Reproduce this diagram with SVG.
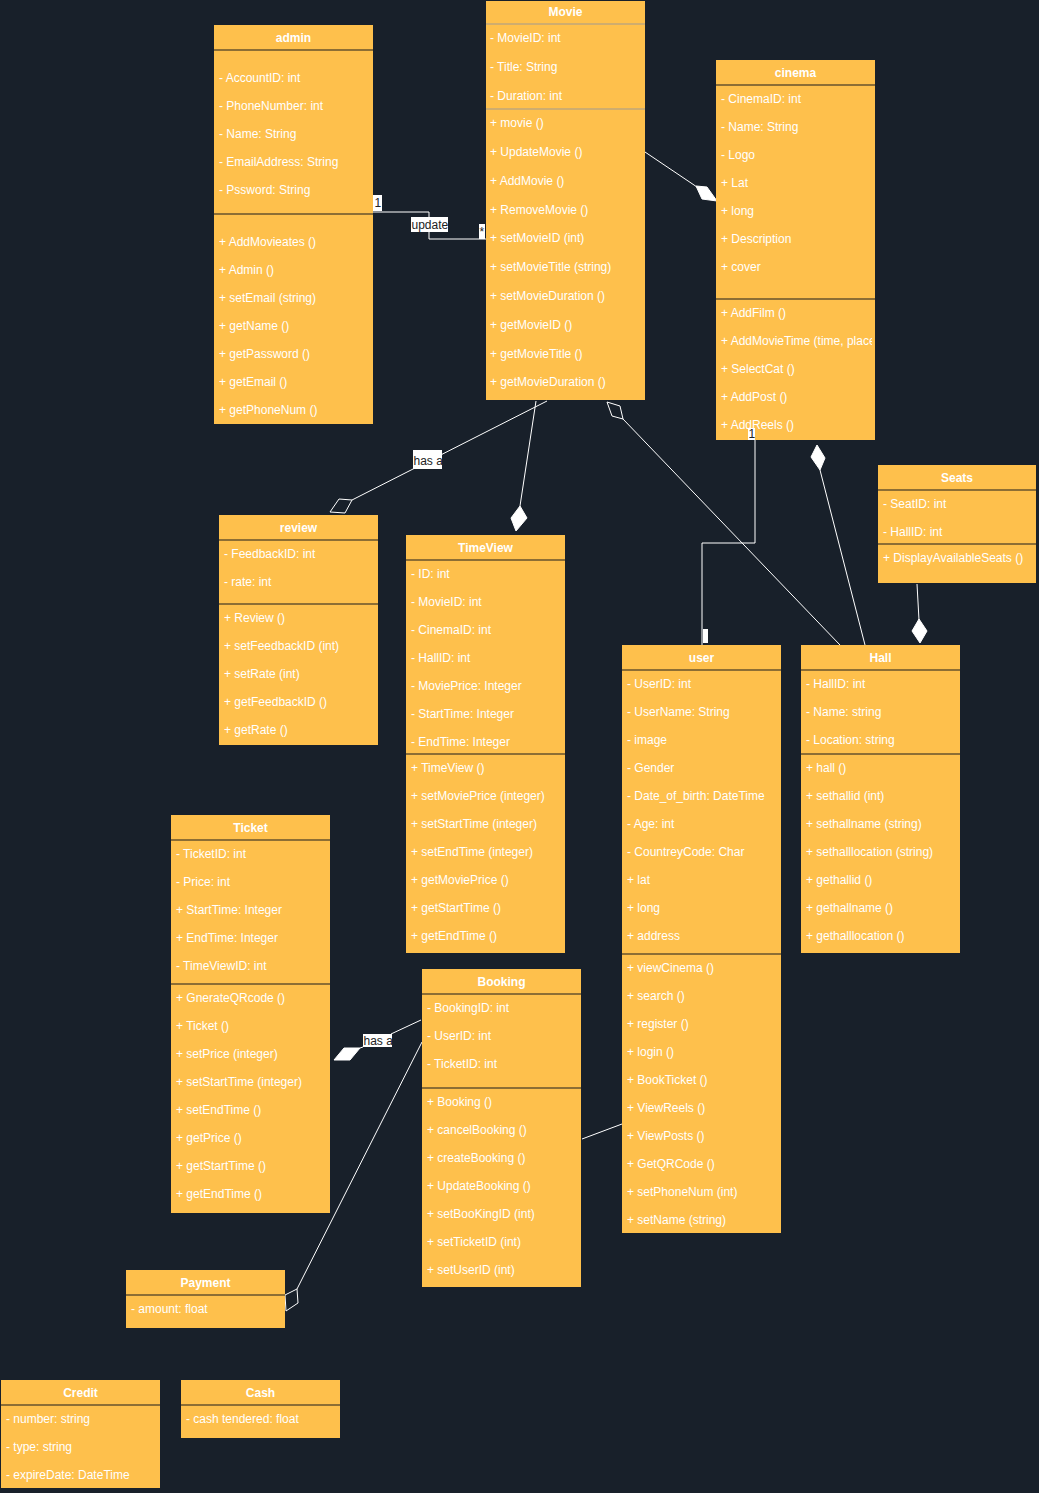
<svg xmlns="http://www.w3.org/2000/svg" width="1039" height="1493" viewBox="0 0 1039 1493">
<style>
.bg{fill:#18202a}
.box{fill:#fec04c}
.sep{stroke:#1c1c1c;stroke-width:1.2}
.gsep{stroke:#a09a90;stroke-width:1.2}
.t{font-family:"Liberation Sans",Arial,sans-serif;font-size:12px;fill:#ffffff}
.h{font-weight:bold;text-anchor:middle}
.c{stroke:#ffffff;stroke-width:1;fill:none}
.fd{fill:#ffffff;stroke:#ffffff;stroke-width:1}
.hd{fill:none;stroke:#ffffff;stroke-width:1}
.lb{fill:#ffffff}
.lt{font-family:"Liberation Sans",Arial,sans-serif;font-size:12px;fill:#222222}
</style>
<defs>
<clipPath id="clipCinema"><rect x="716" y="60" width="156" height="380"/></clipPath>
</defs>
<rect class="bg" x="0" y="0" width="1039" height="1493"/>

<g id="connectors">
  <polyline class="c" points="373,212 429,212 429,239 486,239"/>
  <line class="c" x1="645" y1="152" x2="697" y2="187"/>
  <polygon class="fd" points="696,186 707,187 717,201 702,199"/>
  <line class="c" x1="547" y1="401" x2="352" y2="500"/>
  <polygon class="hd" points="352,500 339,499 330,512 345,513"/>
  <line class="c" x1="536" y1="401" x2="520" y2="506"/>
  <polygon class="fd" points="520,506 527,518 516,531 511,518"/>
  <polygon class="hd" points="607,402 620,406 623,419 612,416"/>
  <line class="c" x1="623" y1="419" x2="840" y2="645"/>
  <polyline class="c" points="755,440 755,543 702,543 702,645"/>
  <polygon class="fd" points="817,445 825,458 820,470 811,457"/>
  <line class="c" x1="820" y1="470" x2="865" y2="645"/>
  <line class="c" x1="917" y1="584" x2="919" y2="620"/>
  <polygon class="fd" points="919,619 927,631 920,643 912,631"/>
  <line class="c" x1="421" y1="1020" x2="391" y2="1034"/>
  <line class="c" x1="363" y1="1047" x2="360" y2="1048"/>
  <polygon class="fd" points="360,1048 350,1060 334,1060 344,1048"/>
  <line class="c" x1="422" y1="1042" x2="297" y2="1289"/>
  <polygon class="hd" points="297,1289 298,1303 286,1311 285,1295"/>
  <line class="c" x1="582" y1="1139" x2="622" y2="1124"/>
</g>

<g id="admin">
  <rect class="box" x="214" y="25" width="159" height="399"/>
  <line class="sep" x1="214" y1="50" x2="373" y2="50"/>
  <line class="sep" x1="214" y1="214" x2="373" y2="214"/>
  <text class="t h" x="293.5" y="42">admin</text>
  <text class="t" x="219" y="82">- AccountID: int</text>
  <text class="t" x="219" y="110">- PhoneNumber: int</text>
  <text class="t" x="219" y="138">- Name: String</text>
  <text class="t" x="219" y="166">- EmailAddress: String</text>
  <text class="t" x="219" y="194">- Pssword: String</text>
  <text class="t" x="219" y="246">+ AddMovieates ()</text>
  <text class="t" x="219" y="274">+ Admin ()</text>
  <text class="t" x="219" y="302">+ setEmail (string)</text>
  <text class="t" x="219" y="330">+ getName ()</text>
  <text class="t" x="219" y="358">+ getPassword ()</text>
  <text class="t" x="219" y="386">+ getEmail ()</text>
  <text class="t" x="219" y="414">+ getPhoneNum ()</text>
</g>

<g id="movie">
  <rect class="box" x="486" y="1" width="159" height="399"/>
  <line class="gsep" x1="486" y1="24" x2="645" y2="24"/>
  <line class="gsep" x1="486" y1="109" x2="645" y2="109"/>
  <text class="t h" x="565.5" y="16">Movie</text>
  <text class="t" x="490" y="42">- MovieID: int</text>
  <text class="t" x="490" y="71">- Title: String</text>
  <text class="t" x="490" y="100">- Duration: int</text>
  <text class="t" x="490" y="127">+ movie ()</text>
  <text class="t" x="490" y="156">+ UpdateMovie ()</text>
  <text class="t" x="490" y="185">+ AddMovie ()</text>
  <text class="t" x="490" y="214">+ RemoveMovie ()</text>
  <text class="t" x="490" y="242">+ setMovieID (int)</text>
  <text class="t" x="490" y="271">+ setMovieTitle (string)</text>
  <text class="t" x="490" y="300">+ setMovieDuration ()</text>
  <text class="t" x="490" y="329">+ getMovieID ()</text>
  <text class="t" x="490" y="358">+ getMovieTitle ()</text>
  <text class="t" x="490" y="386">+ getMovieDuration ()</text>
</g>

<g id="cinema">
  <rect class="box" x="716" y="60" width="159" height="380"/>
  <line class="sep" x1="716" y1="85" x2="875" y2="85"/>
  <line class="sep" x1="716" y1="299" x2="875" y2="299"/>
  <text class="t h" x="795.5" y="77">cinema</text>
  <text class="t" x="721" y="103">- CinemaID: int</text>
  <text class="t" x="721" y="131">- Name: String</text>
  <text class="t" x="721" y="159">- Logo</text>
  <text class="t" x="721" y="187">+ Lat</text>
  <text class="t" x="721" y="215">+ long</text>
  <text class="t" x="721" y="243">+ Description</text>
  <text class="t" x="721" y="271">+ cover</text>
  <text class="t" x="721" y="317">+ AddFilm ()</text>
  <text class="t" x="721" y="345" clip-path="url(#clipCinema)">+ AddMovieTime (time, place)</text>
  <text class="t" x="721" y="373">+ SelectCat ()</text>
  <text class="t" x="721" y="401">+ AddPost ()</text>
  <text class="t" x="721" y="429">+ AddReels ()</text>
</g>

<g id="seats">
  <rect class="box" x="878" y="465" width="158" height="118"/>
  <line class="sep" x1="878" y1="490" x2="1036" y2="490"/>
  <line class="sep" x1="878" y1="544" x2="1036" y2="544"/>
  <text class="t h" x="957" y="482">Seats</text>
  <text class="t" x="883" y="508">- SeatID: int</text>
  <text class="t" x="883" y="536">- HallID: int</text>
  <text class="t" x="883" y="562">+ DisplayAvailableSeats ()</text>
</g>

<g id="review">
  <rect class="box" x="219" y="515" width="159" height="230"/>
  <line class="sep" x1="219" y1="540" x2="378" y2="540"/>
  <line class="sep" x1="219" y1="604" x2="378" y2="604"/>
  <text class="t h" x="298.5" y="532">review</text>
  <text class="t" x="224" y="558">- FeedbackID: int</text>
  <text class="t" x="224" y="586">- rate: int</text>
  <text class="t" x="224" y="622">+ Review ()</text>
  <text class="t" x="224" y="650">+ setFeedbackID (int)</text>
  <text class="t" x="224" y="678">+ setRate (int)</text>
  <text class="t" x="224" y="706">+ getFeedbackID ()</text>
  <text class="t" x="224" y="734">+ getRate ()</text>
</g>

<g id="timeview">
  <rect class="box" x="406" y="535" width="159" height="418"/>
  <line class="sep" x1="406" y1="560" x2="565" y2="560"/>
  <line class="sep" x1="406" y1="754" x2="565" y2="754"/>
  <text class="t h" x="485.5" y="552">TimeView</text>
  <text class="t" x="411" y="578">- ID: int</text>
  <text class="t" x="411" y="606">- MovieID: int</text>
  <text class="t" x="411" y="634">- CinemaID: int</text>
  <text class="t" x="411" y="662">- HallID: int</text>
  <text class="t" x="411" y="690">- MoviePrice: Integer</text>
  <text class="t" x="411" y="718">- StartTime: Integer</text>
  <text class="t" x="411" y="746">- EndTime: Integer</text>
  <text class="t" x="411" y="772">+ TimeView ()</text>
  <text class="t" x="411" y="800">+ setMoviePrice (integer)</text>
  <text class="t" x="411" y="828">+ setStartTime (integer)</text>
  <text class="t" x="411" y="856">+ setEndTime (integer)</text>
  <text class="t" x="411" y="884">+ getMoviePrice ()</text>
  <text class="t" x="411" y="912">+ getStartTime ()</text>
  <text class="t" x="411" y="940">+ getEndTime ()</text>
</g>

<g id="user">
  <rect class="box" x="622" y="645" width="159" height="588"/>
  <line class="sep" x1="622" y1="670" x2="781" y2="670"/>
  <line class="sep" x1="622" y1="954" x2="781" y2="954"/>
  <text class="t h" x="701.5" y="662">user</text>
  <text class="t" x="627" y="688">- UserID: int</text>
  <text class="t" x="627" y="716">- UserName: String</text>
  <text class="t" x="627" y="744">- image</text>
  <text class="t" x="627" y="772">- Gender</text>
  <text class="t" x="627" y="800">- Date_of_birth: DateTime</text>
  <text class="t" x="627" y="828">- Age: int</text>
  <text class="t" x="627" y="856">- CountreyCode: Char</text>
  <text class="t" x="627" y="884">+ lat</text>
  <text class="t" x="627" y="912">+ long</text>
  <text class="t" x="627" y="940">+ address</text>
  <text class="t" x="627" y="972">+ viewCinema ()</text>
  <text class="t" x="627" y="1000">+ search ()</text>
  <text class="t" x="627" y="1028">+ register ()</text>
  <text class="t" x="627" y="1056">+ login ()</text>
  <text class="t" x="627" y="1084">+ BookTicket ()</text>
  <text class="t" x="627" y="1112">+ ViewReels ()</text>
  <text class="t" x="627" y="1140">+ ViewPosts ()</text>
  <text class="t" x="627" y="1168">+ GetQRCode ()</text>
  <text class="t" x="627" y="1196">+ setPhoneNum (int)</text>
  <text class="t" x="627" y="1224">+ setName (string)</text>
</g>

<g id="hall">
  <rect class="box" x="801" y="645" width="159" height="308"/>
  <line class="sep" x1="801" y1="670" x2="960" y2="670"/>
  <line class="sep" x1="801" y1="754" x2="960" y2="754"/>
  <text class="t h" x="880.5" y="662">Hall</text>
  <text class="t" x="806" y="688">- HallID: int</text>
  <text class="t" x="806" y="716">- Name: string</text>
  <text class="t" x="806" y="744">- Location: string</text>
  <text class="t" x="806" y="772">+ hall ()</text>
  <text class="t" x="806" y="800">+ sethallid (int)</text>
  <text class="t" x="806" y="828">+ sethallname (string)</text>
  <text class="t" x="806" y="856">+ sethalllocation (string)</text>
  <text class="t" x="806" y="884">+ gethallid ()</text>
  <text class="t" x="806" y="912">+ gethallname ()</text>
  <text class="t" x="806" y="940">+ gethalllocation ()</text>
</g>

<g id="ticket">
  <rect class="box" x="171" y="815" width="159" height="398"/>
  <line class="sep" x1="171" y1="840" x2="330" y2="840"/>
  <line class="sep" x1="171" y1="984" x2="330" y2="984"/>
  <text class="t h" x="250.5" y="832">Ticket</text>
  <text class="t" x="176" y="858">- TicketID: int</text>
  <text class="t" x="176" y="886">- Price: int</text>
  <text class="t" x="176" y="914">+ StartTime: Integer</text>
  <text class="t" x="176" y="942">+ EndTime: Integer</text>
  <text class="t" x="176" y="970">- TimeViewID: int</text>
  <text class="t" x="176" y="1002">+ GnerateQRcode ()</text>
  <text class="t" x="176" y="1030">+ Ticket ()</text>
  <text class="t" x="176" y="1058">+ setPrice (integer)</text>
  <text class="t" x="176" y="1086">+ setStartTime (integer)</text>
  <text class="t" x="176" y="1114">+ setEndTime ()</text>
  <text class="t" x="176" y="1142">+ getPrice ()</text>
  <text class="t" x="176" y="1170">+ getStartTime ()</text>
  <text class="t" x="176" y="1198">+ getEndTime ()</text>
</g>

<g id="booking">
  <rect class="box" x="422" y="969" width="159" height="318"/>
  <line class="sep" x1="422" y1="994" x2="581" y2="994"/>
  <line class="sep" x1="422" y1="1088" x2="581" y2="1088"/>
  <text class="t h" x="501.5" y="986">Booking</text>
  <text class="t" x="427" y="1012">- BookingID: int</text>
  <text class="t" x="427" y="1040">- UserID: int</text>
  <text class="t" x="427" y="1068">- TicketID: int</text>
  <text class="t" x="427" y="1106">+ Booking ()</text>
  <text class="t" x="427" y="1134">+ cancelBooking ()</text>
  <text class="t" x="427" y="1162">+ createBooking ()</text>
  <text class="t" x="427" y="1190">+ UpdateBooking ()</text>
  <text class="t" x="427" y="1218">+ setBooKingID (int)</text>
  <text class="t" x="427" y="1246">+ setTicketID (int)</text>
  <text class="t" x="427" y="1274">+ setUserID (int)</text>
</g>

<g id="payment">
  <rect class="box" x="126" y="1270" width="159" height="58"/>
  <line class="sep" x1="126" y1="1295" x2="285" y2="1295"/>
  <text class="t h" x="205.5" y="1287">Payment</text>
  <text class="t" x="131" y="1313">- amount: float</text>
</g>

<g id="credit">
  <rect class="box" x="1" y="1380" width="159" height="108"/>
  <line class="sep" x1="1" y1="1405" x2="160" y2="1405"/>
  <text class="t h" x="80.5" y="1397">Credit</text>
  <text class="t" x="6" y="1423">- number: string</text>
  <text class="t" x="6" y="1451">- type: string</text>
  <text class="t" x="6" y="1479">- expireDate: DateTime</text>
</g>

<g id="cash">
  <rect class="box" x="181" y="1380" width="159" height="58"/>
  <line class="sep" x1="181" y1="1405" x2="340" y2="1405"/>
  <text class="t h" x="260.5" y="1397">Cash</text>
  <text class="t" x="186" y="1423">- cash tendered: float</text>
</g>

<g id="connector-labels">
  <rect class="lb" x="373" y="195" width="9" height="16"/>
  <text class="lt" x="374.5" y="207">1</text>
  <rect class="lb" x="411" y="217" width="37" height="15"/>
  <text class="lt" x="411.5" y="229">update</text>
  <rect class="lb" x="479" y="224" width="6" height="15"/>
  <text class="lt" x="479.5" y="236">*</text>
  <rect class="lb" x="413" y="450" width="29" height="19"/>
  <text class="lt" x="413.5" y="465">has a</text>
  <rect class="lb" x="748" y="428" width="7" height="12"/>
  <text class="lt" x="748.5" y="438" font-size="11">1</text>
  <rect class="lb" x="703" y="629" width="5" height="14"/>
  <rect class="lb" x="363" y="1034" width="29" height="13"/>
  <text class="lt" x="363.5" y="1045">has a</text>
</g>
</svg>
